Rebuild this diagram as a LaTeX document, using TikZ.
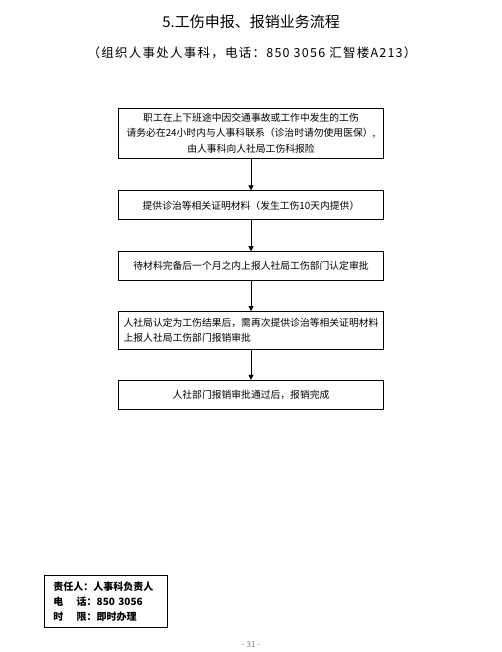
\documentclass[tikz,border=0pt]{standalone}
\usepackage{fontspec}
\usepackage{tikz}
\usetikzlibrary{arrows.meta, positioning}
\newfontfamily\cjk{Noto Sans CJK SC}
\newfontfamily\cjkwide[LetterSpace=10]{Noto Sans CJK SC}
\definecolor{pagegray}{HTML}{808080}

\begin{document}
\begin{tikzpicture}[
    node distance=30pt,
    heading/.style={font=\cjk\fontsize{15}{18}\selectfont, inner sep=0pt},
    subheading/.style={font=\cjkwide\fontsize{12.5}{15}\selectfont, inner sep=0pt},
    stepbox/.style={rectangle, draw, line width=0.8pt, minimum width=265pt, align=center, font=\cjk\fontsize{9.8}{15.5}\selectfont, inner sep=3pt},
    infobox/.style={rectangle, draw, line width=0.8pt, minimum width=123pt, minimum height=52pt, align=left, font=\cjk\bfseries\fontsize{10}{15}\selectfont, inner xsep=9pt, text width=105pt},
    pagenum/.style={font=\cjk\fontsize{8}{10}\selectfont, text=pagegray, inner sep=0pt},
    arrow/.style={-{Triangle[length=5pt, width=5pt]}, line width=0.6pt},
]

\useasboundingbox (0,0) rectangle (502pt,-652pt);

\node[heading] (title) at (251pt,-22pt) {5.工伤申报、报销业务流程};
\node[subheading] (dept) at (252pt,-53pt) {（组织人事处人事科，电话：850 3056 汇智楼A213）};

\node[stepbox, minimum height=50pt] (report) at (251pt,-133pt) {职工在上下班途中因交通事故或工作中发生的工伤\\请务必在24小时内与人事科联系（诊治时请勿使用医保）,\\由人事科向人社局工伤科报险};
\node[stepbox, minimum height=29pt, below=32pt of report] (proof) {提供诊治等相关证明材料（发生工伤10天内提供）};
\node[stepbox, minimum height=29pt, below=31pt of proof] (apply) {待材料完备后一个月之内上报人社局工伤部门认定审批};
\node[stepbox, minimum height=38pt, align=left, below=30pt of apply] (claim) {人社局认定为工伤结果后，需再次提供诊治等相关证明材料\\上报人社局工伤部门报销审批};
\node[stepbox, minimum height=29pt, below=30pt of claim] (done) {人社部门报销审批通过后，报销完成};

\node[infobox, anchor=north west] (duty) at (44pt,-575pt) {责任人：人事科负责人\\电\ 　话：850 3056\\时\ 　限：即时办理};
\node[pagenum] (page) at (251pt,-645pt) {- 31 -};

\draw[arrow] (report) -- (proof);
\draw[arrow] (proof) -- (apply);
\draw[arrow] (apply) -- (claim);
\draw[arrow] (claim) -- (done);

\end{tikzpicture}
\end{document}
